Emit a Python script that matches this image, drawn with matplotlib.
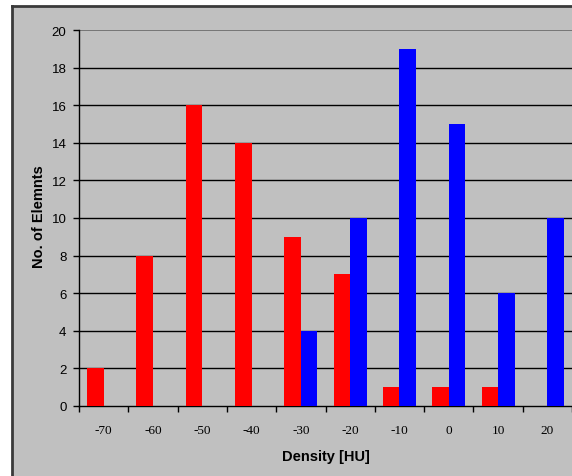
import matplotlib.pyplot as plt
import numpy as np
from matplotlib.patches import Rectangle
from matplotlib.lines import Line2D

# histogram counts per density bin
densities = [-70, -60, -50, -40, -30, -20, -10, 0, 10, 20]
red_counts = [2, 8, 16, 14, 9, 7, 1, 1, 1, 0]
blue_counts = [0, 0, 0, 0, 4, 10, 19, 15, 6, 10]

W, H = 572, 477
fig = plt.figure(figsize=(W / 100, H / 100), dpi=100)
fig.patch.set_facecolor("white")

# chart area background with dark frame on left and top
fig.patches.append(Rectangle((12 / W, 0), 1, (H - 7) / H, transform=fig.transFigure,
                             facecolor="#C0C0C0", edgecolor="none", zorder=-10))
fig.lines.append(Line2D([12 / W, 12 / W], [0, (H - 7) / H], transform=fig.transFigure,
                        color="#3a3a3a", lw=2))
fig.lines.append(Line2D([12 / W, 1], [(H - 7) / H, (H - 7) / H], transform=fig.transFigure,
                        color="#3a3a3a", lw=2))

ax = fig.add_axes([79 / W, (H - 407) / H, (572 - 79) / W, (407 - 31) / H])
ax.set_facecolor("#C0C0C0")

x = np.arange(len(densities))
bw = 0.335
ax.bar(x - bw / 2, red_counts, width=bw, color="#FF0000", zorder=3)
ax.bar(x + bw / 2, blue_counts, width=bw, color="#0000FF", zorder=3)

ax.set_xlim(-0.5, len(densities) - 0.5)
ax.set_ylim(0, 20)
ax.set_yticks(range(0, 21, 2))
for v in range(2, 21, 2):
    ax.axhline(v, color="#707070" if v == 20 else "black", lw=1.3 if v == 20 else 1, zorder=1)

ax.set_xticks(x)
ax.set_xticklabels([str(d) for d in densities], family="Liberation Serif", fontsize=9.5)
ax.set_xticks(np.arange(-0.5, len(densities) - 0.4, 1), minor=True)
ax.tick_params(axis="x", which="major", length=0, pad=13)
ax.tick_params(axis="x", which="minor", length=4, width=1, color="black")
ax.tick_params(axis="y", length=4, width=1, pad=5, labelsize=9.5)
for lbl in ax.get_yticklabels():
    lbl.set_family("Liberation Sans")

for s in ["top", "right"]:
    ax.spines[s].set_visible(False)
ax.spines["left"].set_linewidth(1)
ax.spines["bottom"].set_linewidth(1)

fig.text(39 / W, 1 - 217 / H, "No. of Elemnts", rotation=90, ha="center", va="center",
         family="Liberation Sans", fontweight="bold", fontsize=10.5)
fig.text(326 / W, 1 - 457 / H, "Density [HU]", ha="center", va="center",
         family="Liberation Sans", fontweight="bold", fontsize=10.5)

fig.savefig("out.png", dpi=100)
